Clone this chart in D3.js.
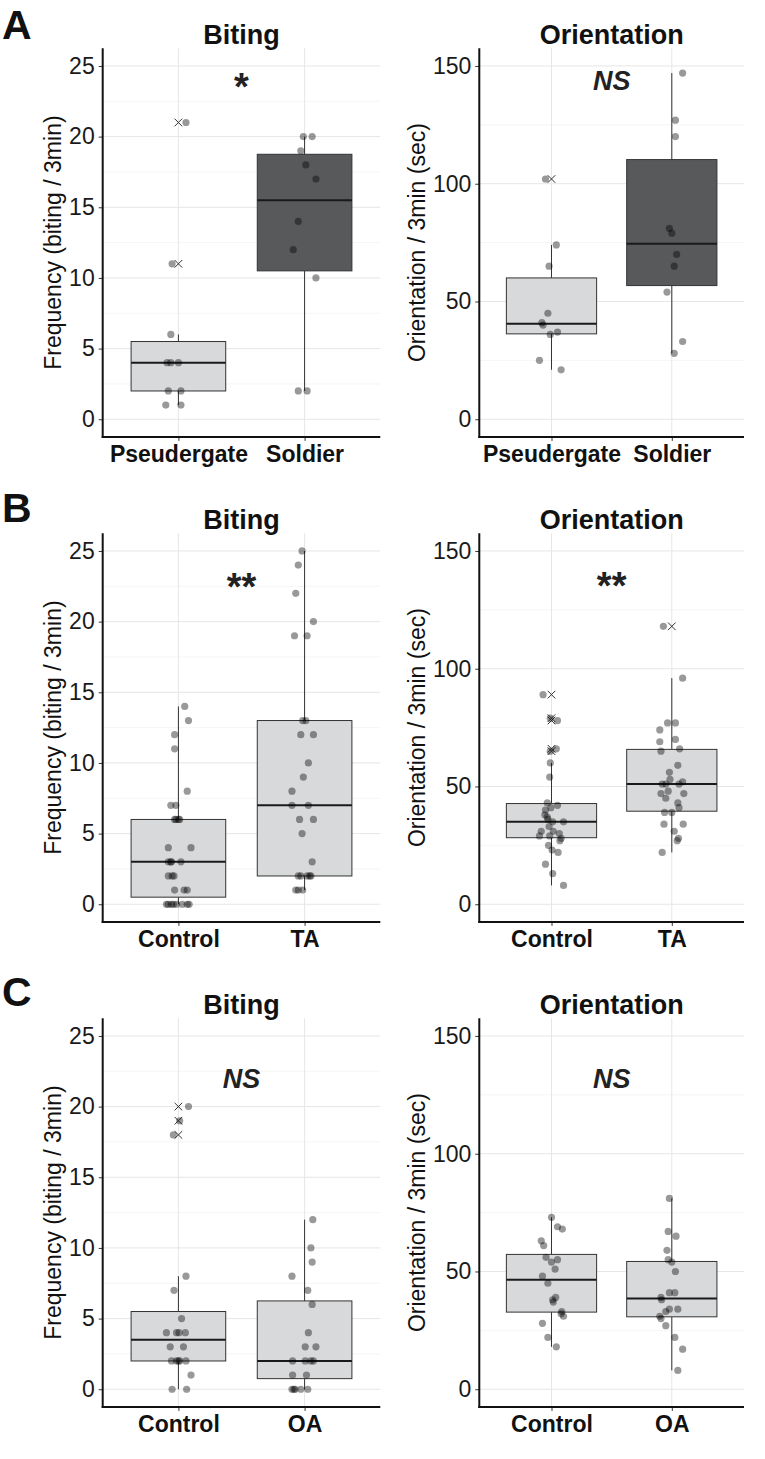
<!DOCTYPE html>
<html><head><meta charset="utf-8">
<script src="https://cdn.jsdelivr.net/npm/d3@7"></script>
<style>body{margin:0;background:#fff} svg{display:block}</style>
</head><body><svg id="c" width="765" height="1459"></svg>
<script>
// ---------------- DATA ----------------
const groupsA = ["Pseudergate", "Soldier"];
const groupsB = ["Control", "TA"];
const groupsC = ["Control", "OA"];
const bitingTicks = [0, 5, 10, 15, 20, 25];
const bitingMinor = [2.5, 7.5, 12.5, 17.5, 22.5];
const orientTicks = [0, 50, 100, 150];
const orientMinor = [25, 75, 125];
const bitingDomain = [0, 25];
const orientDomain = [0, 150];

// A - biting
const aBitePseud = [21, 11, 6, 4, 4, 4, 2, 2, 1, 1];
const aBitePseudJit = [0.06, -0.05, -0.06, -0.09, -0.06, 0.00, -0.08, 0.02, -0.10, 0.02];
const aBiteSold = [20, 20, 19, 18, 17, 14, 12, 10, 2, 2];
const aBiteSoldJit = [-0.01, 0.06, -0.03, 0.01, 0.09, -0.05, -0.09, 0.09, -0.05, 0.02];
// A - orientation
const aOriPseud = [102, 74, 65, 45, 41, 40, 37, 36, 25, 21];
const aOriPseudJit = [-0.05, 0.04, -0.02, -0.03, -0.08, -0.07, 0.05, -0.01, -0.10, 0.08];
const aOriSold = [147, 127, 120, 81, 79, 70, 65, 54, 33, 28];
const aOriSoldJit = [0.09, 0.03, 0.03, -0.02, 0.00, 0.04, 0.02, -0.04, 0.09, 0.02];
// B - biting
const bBiteCtrl = [14,13,12,11,8,7,7,6,6,6,6,4,4,3,3,3,3,2,2,2,1,1,1,0,0,0,0,0,0,0,0];
const bBiteCtrlJit = [0.05,0.08,-0.03,-0.03,0.07,-0.06,-0.02,-0.03,-0.02,0.00,0.01,-0.08,0.10,-0.08,-0.06,-0.055,0.02,-0.08,-0.05,-0.035,-0.03,0.045,0.07,-0.095,-0.08,-0.055,-0.04,-0.015,0.03,0.07,0.085];
const bBiteTA = [25,24,22,20,19,19,13,13,12,12,10,9,8,7,7,6,6,5,3,2,2,2,2,2,1,1,1];
const bBiteTAJit = [-0.02,-0.05,-0.07,0.07,-0.08,0.02,-0.015,0.01,-0.03,0.07,0.03,-0.01,-0.10,-0.10,0.03,-0.04,0.07,-0.02,0.06,-0.05,-0.03,0.02,0.04,0.05,-0.07,-0.05,-0.015];
// B - orientation
const bOriCtrl = [89,79,78,66,65,60,54,43,42,41,40,38,37,36,35,35,33,31,31,30,29,29,28,27,25,23,22,17,13,8];
const bOriCtrlJit = [-0.07,-0.01,0.05,0.04,-0.01,-0.01,-0.015,-0.035,0.05,-0.005,-0.05,-0.055,-0.035,-0.03,0.01,0.10,-0.02,-0.085,0.015,0.065,-0.10,-0.015,0.08,0.07,-0.025,0.005,0.055,-0.05,0.01,0.10];
const bOriTA = [118,96,77,77,74,70,69,66,65,59,56,53,52,51,51,51,48,47,47,45,43,41,39,39,34,34,31,28,27,22];
const bOriTAJit = [-0.07,0.09,-0.035,0.03,-0.10,0.03,-0.10,0.065,-0.09,0.05,-0.02,-0.015,0.09,-0.08,-0.05,0.06,-0.03,-0.09,0.10,-0.05,0.05,0.06,-0.06,0.00,-0.065,0.095,0.02,0.055,0.045,-0.08];
// C - biting
const cBiteCtrl = [20,19,18,8,7,5,4,4,4,4,3,3,2,2,2,2,2,1,0,0];
const cBiteCtrlJit = [0.08,0.01,-0.04,0.06,-0.035,0.025,-0.095,-0.015,0.005,0.055,-0.065,0.04,-0.055,-0.015,0.00,0.01,0.06,0.10,-0.05,0.065];
const cBiteOA = [12,10,9,8,7,6,4,3,3,2,2,2,2,1,1,0,0,0,0,0];
const cBiteOAJit = [0.065,0.05,0.06,-0.10,0.025,0.06,0.03,0.005,0.09,-0.095,0.005,0.05,0.07,-0.095,0.015,-0.10,-0.085,-0.075,-0.03,0.025];
// C - orientation
const cOriCtrl = [73,69,68,63,61,56,55,54,51,48,45,39,38,37,33,32,31,28,22,18];
const cOriCtrlJit = [0.00,0.05,0.09,-0.085,-0.065,-0.045,0.05,0.00,0.03,-0.075,-0.03,0.035,0.01,0.015,0.085,0.08,0.10,-0.075,-0.03,0.04];
const cOriOA = [81,67,65,59,55,54,50,41,41,39,38,34,34,33,31,30,27,22,17,8];
const cOriOAJit = [-0.02,-0.03,0.035,-0.04,-0.03,0.00,0.03,-0.02,0.025,-0.09,-0.085,-0.02,0.05,-0.05,-0.10,-0.09,-0.05,0.025,0.09,0.05];

const panelLetters = ["A", "B", "C"];
const sigLabels = ["*", "NS", "**", "**", "NS", "NS"];
const sigCenters = [24.1, 143.7, 23.1, 138.8, 22.0, 131.9];

// ---------------- DRAWING ----------------
const FONT = "'Liberation Sans', Arial, Helvetica, sans-serif";
const LIGHT = "#d8d9da", DARK = "#58595b";
const svg = d3.select("#c");
svg.append("rect").attr("width", 765).attr("height", 1459).attr("fill", "#fff");

function boxStats(vals) {
  const s = vals.slice().sort(d3.ascending);
  const q1 = d3.quantileSorted(s, 0.25), med = d3.quantileSorted(s, 0.5), q3 = d3.quantileSorted(s, 0.75);
  const iqr = q3 - q1, lo = q1 - 1.5 * iqr, hi = q3 + 1.5 * iqr;
  const inside = s.filter(v => v >= lo && v <= hi);
  return { q1, med, q3, wlo: d3.min(inside), whi: d3.max(inside), out: s.filter(v => v < lo || v > hi) };
}

const rowTops = [48.3, 533.3, 1018.3];
const plotH = 388.6;
const colX = [[102.7, 380.3], [479.3, 744]];

function panel(cfg) {
  const [x0, x1] = colX[cfg.col];
  const yTop = rowTops[cfg.row], yBot = yTop + plotH;
  const pad = (cfg.domain[1] - cfg.domain[0]) * 0.05;
  const x = d3.scaleLinear().domain([0.4, 2.6]).range([x0, x1]);
  const y = d3.scaleLinear().domain([cfg.domain[0] - pad, cfg.domain[1] + pad]).range([yBot, yTop]);
  const g = svg.append("g");

  // grid
  g.selectAll(".mn").data(cfg.minor).join("line")
    .attr("x1", x0).attr("x2", x1).attr("y1", d => y(d)).attr("y2", d => y(d))
    .attr("stroke", "#f0f0f0").attr("stroke-width", 0.7);
  g.selectAll(".mj").data(cfg.ticks).join("line")
    .attr("x1", x0).attr("x2", x1).attr("y1", d => y(d)).attr("y2", d => y(d))
    .attr("stroke", "#e6e6e6").attr("stroke-width", 1);
  g.selectAll(".vg").data([1, 2]).join("line")
    .attr("x1", d => x(d)).attr("x2", d => x(d)).attr("y1", yTop).attr("y2", yBot)
    .attr("stroke", "#e6e6e6").attr("stroke-width", 1);

  // boxes
  cfg.series.forEach((vals, i) => {
    const c = i + 1, st = boxStats(vals);
    const bg = g.append("g");
    bg.append("line").attr("x1", x(c)).attr("x2", x(c)).attr("y1", y(st.q3)).attr("y2", y(st.whi))
      .attr("stroke", "#333").attr("stroke-width", 1);
    bg.append("line").attr("x1", x(c)).attr("x2", x(c)).attr("y1", y(st.q1)).attr("y2", y(st.wlo))
      .attr("stroke", "#333").attr("stroke-width", 1);
    bg.append("rect").attr("x", x(c - 0.375)).attr("width", x(c + 0.375) - x(c - 0.375))
      .attr("y", y(st.q3)).attr("height", y(st.q1) - y(st.q3))
      .attr("fill", cfg.fills[i]).attr("stroke", "#333").attr("stroke-width", 1);
    bg.append("line").attr("x1", x(c - 0.375)).attr("x2", x(c + 0.375)).attr("y1", y(st.med)).attr("y2", y(st.med))
      .attr("stroke", "#1a1a1a").attr("stroke-width", 2);
    bg.selectAll("path").data(st.out).join("path")
      .attr("d", d => { const cx = x(c), cy = y(d), h = 3.8;
        return `M${cx-h},${cy-h}L${cx+h},${cy+h}M${cx-h},${cy+h}L${cx+h},${cy-h}`; })
      .attr("stroke", "#333").attr("stroke-width", 1).attr("fill", "none");
  });

  // points
  cfg.series.forEach((vals, i) => {
    const jit = cfg.jitters[i];
    g.append("g").selectAll("circle").data(vals.map((v, k) => ({ v, j: jit[k] }))).join("circle")
      .attr("cx", d => x(i + 1 + d.j)).attr("cy", d => y(d.v)).attr("r", 3.6)
      .attr("fill", "#000").attr("fill-opacity", 0.4);
  });

  // axes
  const ya = g.append("g").attr("transform", `translate(${x0},0)`)
    .call(d3.axisLeft(y).tickValues(cfg.ticks).tickSize(4).tickPadding(4));
  ya.select(".domain").remove();
  ya.selectAll(".tick line").attr("stroke", "#333");
  ya.selectAll(".tick text").attr("font-family", FONT).attr("font-size", 23).attr("fill", "#1a1a1a");

  const xa = g.append("g").attr("transform", `translate(0,${yBot})`)
    .call(d3.axisBottom(x).tickValues([1, 2]).tickFormat(d => cfg.cats[d - 1]).tickSize(4).tickPadding(5));
  xa.select(".domain").remove();
  xa.selectAll(".tick line").attr("stroke", "#333");
  xa.selectAll(".tick text").attr("font-family", FONT).attr("font-size", 23).attr("font-weight", "bold").attr("fill", "#111");

  g.append("line").attr("x1", x0).attr("x2", x0).attr("y1", yTop).attr("y2", yBot + 1)
    .attr("stroke", "#111").attr("stroke-width", 2);
  g.append("line").attr("x1", x0 - 1).attr("x2", x1).attr("y1", yBot).attr("y2", yBot)
    .attr("stroke", "#111").attr("stroke-width", 2);

  // y label
  const bb = ya.node().getBBox();
  const lx = x0 + bb.x - 8.3, ly = (yTop + yBot) / 2;
  g.append("text").attr("transform", `translate(${lx},${ly}) rotate(-90)`)
    .attr("text-anchor", "middle").attr("font-family", FONT).attr("font-size", 23).attr("fill", "#111")
    .text(cfg.ylab);

  // title
  g.append("text").attr("x", (x0 + x1) / 2).attr("y", yTop - 4).attr("text-anchor", "middle")
    .attr("font-family", FONT).attr("font-size", 27).attr("font-weight", "bold").attr("fill", "#111")
    .text(cfg.title);

  // significance
  const isNS = cfg.sig === "NS";
  const fs = isNS ? 27 : 38;
  g.append("text").attr("x", (x0 + x1) / 2).attr("y", y(cfg.sigCenter) + (isNS ? 0.358 : 0.573) * fs)
    .attr("text-anchor", "middle").attr("font-family", FONT).attr("font-size", fs)
    .attr("font-weight", "bold").attr("font-style", isNS ? "italic" : "normal").attr("fill", "#222")
    .text(cfg.sig);
}

const rows = [
  { cats: groupsA, fills: [LIGHT, DARK],
    bite: [aBitePseud, aBiteSold], biteJ: [aBitePseudJit, aBiteSoldJit],
    ori: [aOriPseud, aOriSold], oriJ: [aOriPseudJit, aOriSoldJit] },
  { cats: groupsB, fills: [LIGHT, LIGHT],
    bite: [bBiteCtrl, bBiteTA], biteJ: [bBiteCtrlJit, bBiteTAJit],
    ori: [bOriCtrl, bOriTA], oriJ: [bOriCtrlJit, bOriTAJit] },
  { cats: groupsC, fills: [LIGHT, LIGHT],
    bite: [cBiteCtrl, cBiteOA], biteJ: [cBiteCtrlJit, cBiteOAJit],
    ori: [cOriCtrl, cOriOA], oriJ: [cOriCtrlJit, cOriOAJit] }
];

rows.forEach((r, ri) => {
  panel({ row: ri, col: 0, cats: r.cats, fills: r.fills, series: r.bite, jitters: r.biteJ,
    domain: bitingDomain, ticks: bitingTicks, minor: bitingMinor, title: "Biting",
    ylab: "Frequency (biting / 3min)", sig: sigLabels[ri * 2], sigCenter: sigCenters[ri * 2] });
  panel({ row: ri, col: 1, cats: r.cats, fills: r.fills, series: r.ori, jitters: r.oriJ,
    domain: orientDomain, ticks: orientTicks, minor: orientMinor, title: "Orientation",
    ylab: "Orientation / 3min (sec)", sig: sigLabels[ri * 2 + 1], sigCenter: sigCenters[ri * 2 + 1] });
});

const letterBaselines = [39, 522, 1006];
svg.selectAll(".plab").data(panelLetters).join("text")
  .attr("x", 2).attr("y", (d, i) => letterBaselines[i])
  .attr("font-family", FONT).attr("font-size", 41).attr("font-weight", "bold").attr("fill", "#111")
  .text(d => d);
</script></body></html>
